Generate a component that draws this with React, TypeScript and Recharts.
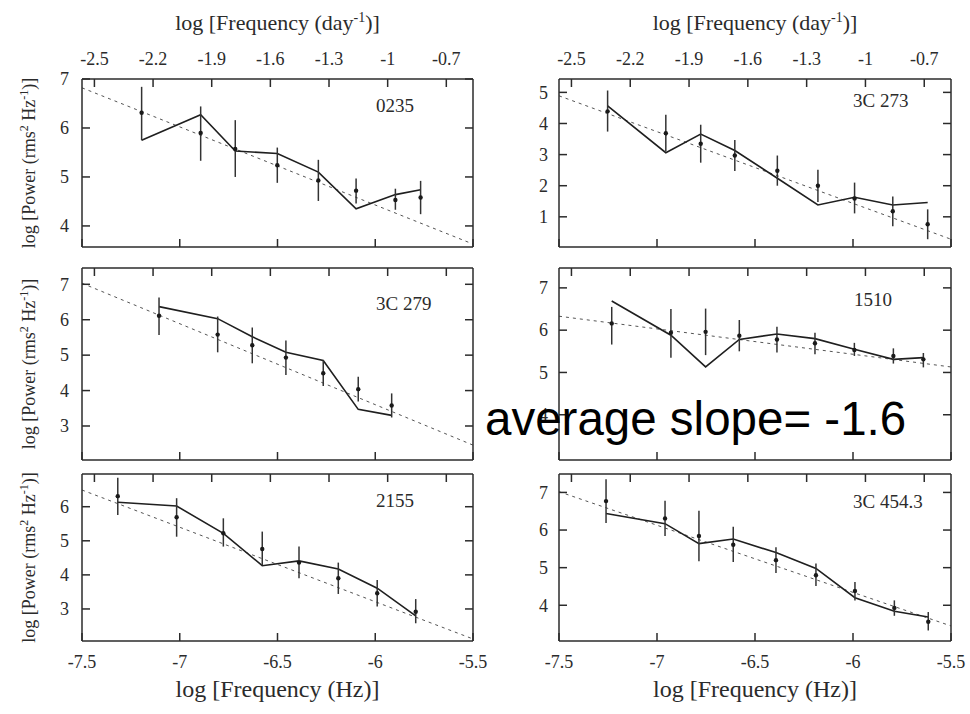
import { ComposedChart, Line, Scatter, ErrorBar, XAxis, YAxis } from "recharts";

// shared axes
const HZ_DOMAIN = [-7.5, -5.5];
const HZ_TICKS = [-7.5, -7, -6.5, -6, -5.5];
const DAY_TICKS = [-2.5, -2.2, -1.9, -1.6, -1.3, -1, -0.7];
const LOG_SEC_PER_DAY = Math.log10(86400);

// 0235
const hz0235 = [-7.195, -6.893, -6.716, -6.501, -6.291, -6.098, -5.897, -5.768];
const pow0235 = [6.31, 5.9, 5.57, 5.24, 4.93, 4.72, 4.53, 4.58];
const lo0235 = [5.75, 5.33, 5.0, 4.88, 4.51, 4.46, 4.33, 4.24];
const hi0235 = [6.84, 6.44, 6.16, 5.6, 5.35, 4.97, 4.76, 4.92];
const model0235 = [5.75, 6.27, 5.53, 5.48, 5.1, 4.35, 4.64, 4.74];
const fit0235 = [6.82, 3.63];

// 3C 273
const hz273 = [-7.252, -6.955, -6.777, -6.603, -6.386, -6.179, -5.992, -5.797, -5.619];
const pow273 = [4.39, 3.69, 3.35, 2.97, 2.48, 2.0, 1.59, 1.18, 0.76];
const lo273 = [3.74, 3.1, 2.74, 2.47, 2.0, 1.48, 1.11, 0.7, 0.28];
const hi273 = [5.06, 4.28, 3.96, 3.47, 2.97, 2.51, 2.1, 1.65, 1.24];
const model273 = [4.57, 3.06, 3.66, 3.13, 2.24, 1.38, 1.63, 1.38, 1.46];
const fit273 = [4.89, 0.28];

// 3C 279
const hz279 = [-7.106, -6.806, -6.629, -6.457, -6.266, -6.087, -5.916];
const pow279 = [6.11, 5.58, 5.28, 4.93, 4.49, 4.04, 3.58];
const lo279 = [5.57, 5.08, 4.77, 4.44, 4.13, 3.69, 3.24];
const hi279 = [6.63, 6.09, 5.78, 5.41, 4.86, 4.39, 3.92];
const model279 = [6.37, 6.03, 5.52, 5.08, 4.85, 3.47, 3.3];
const fit279 = [7.03, 2.46];

// 1510
const hz1510 = [-7.231, -6.929, -6.752, -6.58, -6.388, -6.194, -5.993, -5.794, -5.641];
const pow1510 = [6.16, 5.94, 5.96, 5.87, 5.78, 5.69, 5.53, 5.39, 5.31];
const lo1510 = [5.66, 5.35, 5.41, 5.5, 5.47, 5.43, 5.39, 5.21, 5.12];
const hi1510 = [6.55, 6.5, 6.51, 6.24, 6.08, 5.94, 5.7, 5.57, 5.46];
const model1510 = [6.69, 5.88, 5.13, 5.78, 5.91, 5.8, 5.55, 5.31, 5.35];
const fit1510 = [6.33, 5.13];

// 2155
const hz2155 = [-7.317, -7.016, -6.777, -6.578, -6.39, -6.189, -5.99, -5.793];
const pow2155 = [6.31, 5.69, 5.22, 4.76, 4.36, 3.9, 3.46, 2.92];
const lo2155 = [5.76, 5.12, 4.83, 4.29, 3.9, 3.44, 3.07, 2.58];
const hi2155 = [6.85, 6.25, 5.66, 5.27, 4.83, 4.36, 3.85, 3.29];
const model2155 = [6.13, 6.02, 5.22, 4.27, 4.41, 4.17, 3.61, 2.8];
const fit2155 = [6.49, 2.12];

// 3C 454.3
const hz454 = [-7.26, -6.959, -6.786, -6.611, -6.393, -6.189, -5.99, -5.789, -5.616];
const pow454 = [6.77, 6.31, 5.84, 5.61, 5.2, 4.8, 4.38, 3.93, 3.56];
const lo454 = [6.19, 5.84, 5.17, 5.15, 4.86, 4.51, 4.13, 3.72, 3.33];
const hi454 = [7.35, 6.78, 6.51, 6.09, 5.54, 5.11, 4.62, 4.13, 3.82];
const model454 = [6.44, 6.17, 5.64, 5.76, 5.4, 4.98, 4.2, 3.84, 3.69];
const fit454 = [7.02, 3.45];

const SERIF = "'Liberation Serif', 'Times New Roman', serif";
const INK = "#2b2b2b";
const TICK_LEN = 8;

const YW = 60;
const RW = 20;
const TH = 40;
const BH = 40;

const COLS = [
  { left: 82, width: 391, yGap: 13 },
  { left: 559, width: 392, yGap: 11 },
];
const ROWS = [
  { top: 79, height: 168 },
  { top: 268, height: 192 },
  { top: 474, height: 167 },
];

// top axis runs on the Hz scale, labelled in log(day^-1)
const DAY_TICKS_HZ = DAY_TICKS.map((d) => d - LOG_SEC_PER_DAY);
const dayLabel = (v: number) => String(Number((v + LOG_SEC_PER_DAY).toFixed(1)));
const plain = (v: number) => String(v);

const dot = (p: any) => <circle cx={p.cx} cy={p.cy} r={2.2} fill="#1a1a1a" />;

// inward gnuplot-style ticks
function makeTick(side: string, showLabel: boolean, fmt: (v: number) => string, gap = 0) {
  return (p: any) => {
    const v = p.payload.value;
    const c = p.payload.coordinate;
    const txt = { fontFamily: SERIF, fontSize: 18, fill: INK };
    const ln = { stroke: INK, strokeWidth: 1.5 };
    let line;
    let label = null;
    if (side === "bottom") {
      line = <line x1={c} x2={c} y1={p.y} y2={p.y - TICK_LEN} {...ln} />;
      if (showLabel) label = <text x={c} y={p.y + 27} textAnchor="middle" {...txt}>{fmt(v)}</text>;
    } else if (side === "top") {
      line = <line x1={c} x2={c} y1={p.y} y2={p.y + TICK_LEN} {...ln} />;
      if (showLabel) label = <text x={c} y={p.y - 14} textAnchor="middle" {...txt}>{fmt(v)}</text>;
    } else if (side === "left") {
      line = <line x1={p.x} x2={p.x + TICK_LEN} y1={c} y2={c} {...ln} />;
      if (showLabel)
        label = <text x={p.x - gap} y={c} dy="0.35em" textAnchor="end" {...txt}>{fmt(v)}</text>;
    } else {
      line = <line x1={p.x} x2={p.x - TICK_LEN} y1={c} y2={c} {...ln} />;
    }
    return (
      <g>
        {line}
        {label}
      </g>
    );
  };
}

function Panel(props: any) {
  const { hz, pow, lo, hi, model, fit, yDomain, yTicks, col, row } = props;
  const c = COLS[col];
  const r = ROWS[row];
  const data = hz.map((x: number, i: number) => ({
    x,
    y: pow[i],
    err: [pow[i] - lo[i], hi[i] - pow[i]],
    model: model[i],
  }));
  const fitData = HZ_DOMAIN.map((x, i) => ({ x, fit: fit[i] }));
  const axisLine = { stroke: INK, strokeWidth: 1.5 };

  return (
    <div style={{ position: "absolute", left: c.left - YW, top: r.top - TH }}>
      <ComposedChart
        width={YW + c.width + RW}
        height={TH + r.height + BH}
        data={data}
        margin={{ top: 0, right: 0, bottom: 0, left: 0 }}
      >
        <XAxis
          dataKey="x"
          type="number"
          domain={HZ_DOMAIN}
          ticks={HZ_TICKS}
          allowDataOverflow
          height={BH}
          axisLine={axisLine}
          tickLine={false}
          tickSize={0}
          tickMargin={0}
          tick={makeTick("bottom", row === 2, plain)}
          interval={0}
        />
        <XAxis
          xAxisId="day"
          dataKey="x"
          orientation="top"
          type="number"
          domain={HZ_DOMAIN}
          ticks={DAY_TICKS_HZ}
          allowDataOverflow
          height={TH}
          axisLine={axisLine}
          tickLine={false}
          tickSize={0}
          tickMargin={0}
          tick={makeTick("top", row === 0, dayLabel)}
          interval={0}
        />
        <YAxis
          type="number"
          domain={yDomain}
          ticks={yTicks}
          allowDataOverflow
          width={YW}
          axisLine={axisLine}
          tickLine={false}
          tickSize={0}
          tickMargin={0}
          tick={makeTick("left", true, plain, c.yGap)}
          interval={0}
        />
        <YAxis
          yAxisId="r"
          orientation="right"
          type="number"
          domain={yDomain}
          ticks={yTicks}
          allowDataOverflow
          width={RW}
          axisLine={axisLine}
          tickLine={false}
          tickSize={0}
          tickMargin={0}
          tick={makeTick("right", false, plain)}
          interval={0}
        />
        <Line
          xAxisId="day"
          data={fitData}
          dataKey="fit"
          type="linear"
          stroke="#555"
          strokeWidth={1}
          strokeDasharray="3 4"
          dot={false}
          isAnimationActive={false}
        />
        <Line
          yAxisId="r"
          dataKey="model"
          type="linear"
          stroke="#1f1f1f"
          strokeWidth={1.6}
          dot={false}
          isAnimationActive={false}
        />
        <Scatter data={data} dataKey="y" shape={dot} isAnimationActive={false}>
          <ErrorBar dataKey="err" direction="y" width={0} stroke="#333" strokeWidth={1.5} />
        </Scatter>
      </ComposedChart>
    </div>
  );
}

const names = [
  { text: "0235", x: 376, y: 112 },
  { text: "3C 273", x: 853, y: 107 },
  { text: "3C 279", x: 376, y: 310 },
  { text: "1510", x: 854, y: 306 },
  { text: "2155", x: 376, y: 507 },
  { text: "3C 454.3", x: 853, y: 508 },
];

function Overlay() {
  const colCenters = COLS.map((c) => c.left + c.width / 2);
  const rowCenters = ROWS.map((r) => r.top + r.height / 2);
  return (
    <svg
      width={970}
      height={714}
      style={{ position: "absolute", left: 0, top: 0, pointerEvents: "none" }}
    >
      <g fontFamily={SERIF} fill={INK}>
        {colCenters.map((cx, i) => (
          <text key={"t" + i} x={cx} y={30} fontSize={22} textAnchor="middle">
            log [Frequency (day
            <tspan dy={-8} fontSize={14}>-1</tspan>
            <tspan dy={8}>)]</tspan>
          </text>
        ))}
        {colCenters.map((cx, i) => (
          <text key={"b" + i} x={cx} y={697} fontSize={24} textAnchor="middle">
            log [Frequency (Hz)]
          </text>
        ))}
        {rowCenters.map((cy, i) => (
          <text
            key={"y" + i}
            x={35}
            y={cy}
            fontSize={18}
            textAnchor="middle"
            transform={`rotate(-90 35 ${cy})`}
          >
            log [Power (rms
            <tspan dy={-7} fontSize={12}>2</tspan>
            <tspan dy={7}> Hz</tspan>
            <tspan dy={-7} fontSize={12}>-1</tspan>
            <tspan dy={7}>)]</tspan>
          </text>
        ))}
        {names.map((n) => (
          <text key={n.text} x={n.x} y={n.y} fontSize={19}>
            {n.text}
          </text>
        ))}
      </g>
      <text
        x={485}
        y={435}
        fontFamily="'Liberation Sans', Arial, sans-serif"
        fontSize={47.5}
        fill="#000"
      >
        average slope= -1.6
      </text>
    </svg>
  );
}

export default function App() {
  return (
    <div
      style={{
        position: "absolute",
        left: 0,
        top: 0,
        width: 970,
        height: 714,
        background: "#fff",
        overflow: "hidden",
      }}
    >
      <Panel hz={hz0235} pow={pow0235} lo={lo0235} hi={hi0235} model={model0235} fit={fit0235}
        yDomain={[3.57, 7.0]} yTicks={[4, 5, 6, 7]} col={0} row={0} />
      <Panel hz={hz273} pow={pow273} lo={lo273} hi={hi273} model={model273} fit={fit273}
        yDomain={[0.03, 5.43]} yTicks={[1, 2, 3, 4, 5]} col={1} row={0} />
      <Panel hz={hz279} pow={pow279} lo={lo279} hi={hi279} model={model279} fit={fit279}
        yDomain={[2.04, 7.46]} yTicks={[3, 4, 5, 6, 7]} col={0} row={1} />
      <Panel hz={hz1510} pow={pow1510} lo={lo1510} hi={hi1510} model={model1510} fit={fit1510}
        yDomain={[2.93, 7.47]} yTicks={[4, 5, 6, 7]} col={1} row={1} />
      <Panel hz={hz2155} pow={pow2155} lo={lo2155} hi={hi2155} model={model2155} fit={fit2155}
        yDomain={[2.06, 6.96]} yTicks={[3, 4, 5, 6]} col={0} row={2} />
      <Panel hz={hz454} pow={pow454} lo={lo454} hi={hi454} model={model454} fit={fit454}
        yDomain={[3.05, 7.49]} yTicks={[4, 5, 6, 7]} col={1} row={2} />
      <Overlay />
    </div>
  );
}
